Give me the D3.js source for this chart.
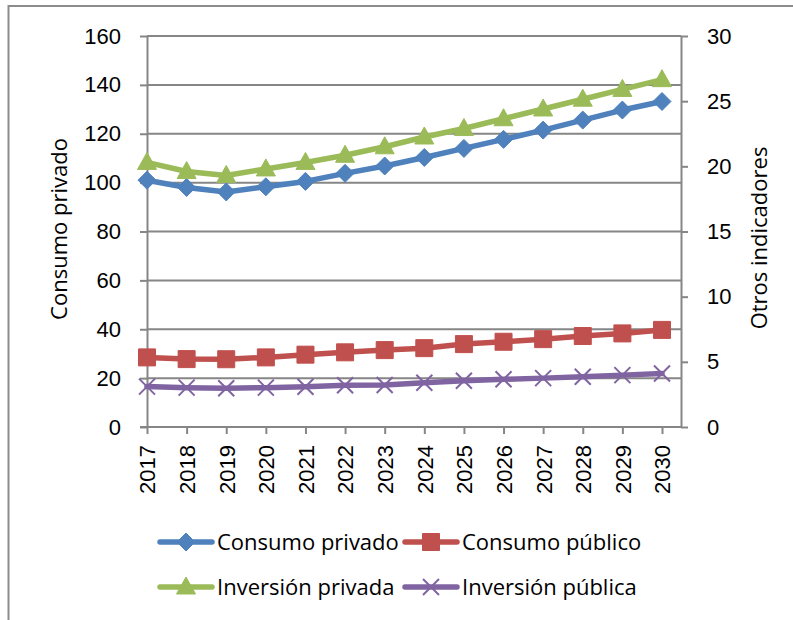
<!DOCTYPE html>
<html>
<head>
<meta charset="utf-8">
<script src="https://cdn.jsdelivr.net/npm/d3@7"></script>
<style>
  html, body { margin: 0; padding: 0; background: #fff; }
  svg { display: block; font-family: "Open Sans", "Noto Sans", sans-serif; }
</style>
</head>
<body>
<script>
// data
const years = ['2017', '2018', '2019', '2020', '2021', '2022', '2023', '2024', '2025', '2026', '2027', '2028', '2029', '2030'];
const consumoPrivado = [101, 98, 96.2, 98.3, 100.5, 103.8, 106.8, 110.3, 114, 117.7, 121.5, 125.6, 129.7, 133.2];
const consumoPublico = [5.34, 5.21, 5.2, 5.34, 5.55, 5.73, 5.9, 6.05, 6.36, 6.54, 6.74, 6.98, 7.18, 7.45];
const inversionPrivada = [20.3, 19.6, 19.3, 19.8, 20.3, 20.85, 21.5, 22.25, 22.9, 23.65, 24.4, 25.15, 25.9, 26.65];
const inversionPublica = [3.1, 3.02, 2.97, 3.02, 3.09, 3.2, 3.22, 3.4, 3.55, 3.66, 3.75, 3.86, 3.98, 4.1];
const leftTicks = [0, 20, 40, 60, 80, 100, 120, 140, 160];
const rightTicks = [0, 5, 10, 15, 20, 25, 30];

const series = [
  { name: 'Consumo privado', values: consumoPrivado, axis: 'left', color: '#4F81BD', marker: 'diamond' },
  { name: 'Consumo público', values: consumoPublico, axis: 'right', color: '#C0504D', marker: 'square' },
  { name: 'Inversión privada', values: inversionPrivada, axis: 'right', color: '#9BBB59', marker: 'triangle' },
  { name: 'Inversión pública', values: inversionPublica, axis: 'right', color: '#8064A2', marker: 'cross' },
];

const width = 793;
const height = 620;
const plotLeft = 147;
const plotRight = 681;
const plotTop = 36;
const plotBottom = 427;
const lastPointX = 662;
const gridColor = '#868686';
const fontSize = 22;

const x = d3.scalePoint().domain(years).range([plotLeft, lastPointX]);
const yLeft = d3.scaleLinear().domain([0, 160]).range([plotBottom, plotTop]);
const yRight = d3.scaleLinear().domain([0, 30]).range([plotBottom, plotTop]);

const svg = d3.select('body').append('svg')
  .attr('width', width)
  .attr('height', height)
  .attr('viewBox', [0, 0, width, height]);

// chart frame (cut by the picture edges)
svg.append('rect')
  .attr('x', 8.5).attr('y', 6)
  .attr('width', 900).attr('height', 700)
  .attr('fill', 'none')
  .attr('stroke', '#8c8c8c')
  .attr('stroke-width', 2);

// horizontal gridlines
svg.append('g')
  .selectAll('line')
  .data(leftTicks)
  .join('line')
  .attr('x1', plotLeft).attr('x2', plotRight)
  .attr('y1', (d) => yLeft(d)).attr('y2', (d) => yLeft(d))
  .attr('stroke', gridColor)
  .attr('stroke-width', 2);

const styleAxis = (g) => {
  g.selectAll('.domain').attr('stroke', gridColor).attr('stroke-width', 2);
  g.selectAll('.tick line').attr('stroke', gridColor).attr('stroke-width', 2);
  g.selectAll('.tick text').attr('fill', '#000').attr('font-size', fontSize).attr('font-family', null);
};

// left axis
svg.append('g')
  .attr('transform', `translate(${plotLeft},0)`)
  .call(d3.axisLeft(yLeft).tickValues(leftTicks).tickSize(7).tickPadding(19).tickSizeOuter(0))
  .call(styleAxis);

// right axis
svg.append('g')
  .attr('transform', `translate(${plotRight},0)`)
  .call(d3.axisRight(yRight).tickValues(rightTicks).tickSize(7).tickPadding(19).tickSizeOuter(0))
  .call(styleAxis);

// bottom axis: category ticks, domain line runs to the right axis
const gBottom = svg.append('g')
  .attr('transform', `translate(0,${plotBottom})`)
  .call(d3.axisBottom(x).tickSize(7).tickSizeOuter(0))
  .call(styleAxis);
gBottom.select('.domain').remove();
gBottom.append('line')
  .attr('x1', plotLeft - 7).attr('x2', plotRight)
  .attr('stroke', gridColor).attr('stroke-width', 2);
gBottom.selectAll('.tick text')
  .attr('transform', 'rotate(-90)')
  .attr('x', -18)
  .attr('y', 0)
  .attr('dy', '0.36em')
  .attr('text-anchor', 'end');

// axis titles
svg.append('text')
  .attr('transform', 'translate(67,229) rotate(-90)')
  .attr('text-anchor', 'middle')
  .attr('font-size', fontSize)
  .text('Consumo privado');

svg.append('text')
  .attr('transform', 'translate(767,238) rotate(-90)')
  .attr('text-anchor', 'middle')
  .attr('font-size', fontSize)
  .text('Otros indicadores');

// marker shapes
const markerPath = (type) => {
  switch (type) {
    case 'diamond': return 'M0,-9L9,0L0,9L-9,0Z';
    case 'square': return 'M-8.5,-8.5H8.5V8.5H-8.5Z';
    case 'triangle': return 'M0,-10L9.5,7L-9.5,7Z';
    default: return 'M-8,-8L8,8M-8,8L8,-8';
  }
};

const drawMarker = (sel, s) => {
  sel.attr('d', markerPath(s.marker))
    .attr('fill', s.marker === 'cross' ? 'none' : s.color)
    .attr('stroke', s.color)
    .attr('stroke-width', s.marker === 'cross' ? 2 : 1);
};

// series lines and markers
series.forEach((s) => {
  const y = s.axis === 'left' ? yLeft : yRight;
  const line = d3.line()
    .x((d, i) => x(years[i]))
    .y((d) => y(d));

  const g = svg.append('g');
  g.append('path')
    .datum(s.values)
    .attr('d', line)
    .attr('fill', 'none')
    .attr('stroke', s.color)
    .attr('stroke-width', 5.5)
    .attr('stroke-linejoin', 'round')
    .attr('stroke-linecap', 'round');

  g.selectAll('path.m')
    .data(s.values)
    .join('path')
    .attr('class', 'm')
    .attr('transform', (d, i) => `translate(${x(years[i])},${y(d)})`)
    .call(drawMarker, s);
});

// legend
const legendRows = [542, 587];
const legendCols = [160, 405];
const legend = svg.append('g')
  .selectAll('g')
  .data(series)
  .join('g')
  .attr('transform', (d, i) => `translate(${legendCols[i % 2]},${legendRows[Math.floor(i / 2)]})`);

legend.append('line')
  .attr('x1', 0).attr('x2', 52)
  .attr('stroke', (d) => d.color)
  .attr('stroke-width', 5.5)
  .attr('stroke-linecap', 'round');

legend.append('path')
  .attr('transform', 'translate(26,0)')
  .each(function (d) { d3.select(this).call(drawMarker, d); });

legend.append('text')
  .attr('x', 57)
  .attr('dy', '0.36em')
  .attr('font-size', fontSize)
  .text((d) => d.name);
</script>
</body>
</html>
